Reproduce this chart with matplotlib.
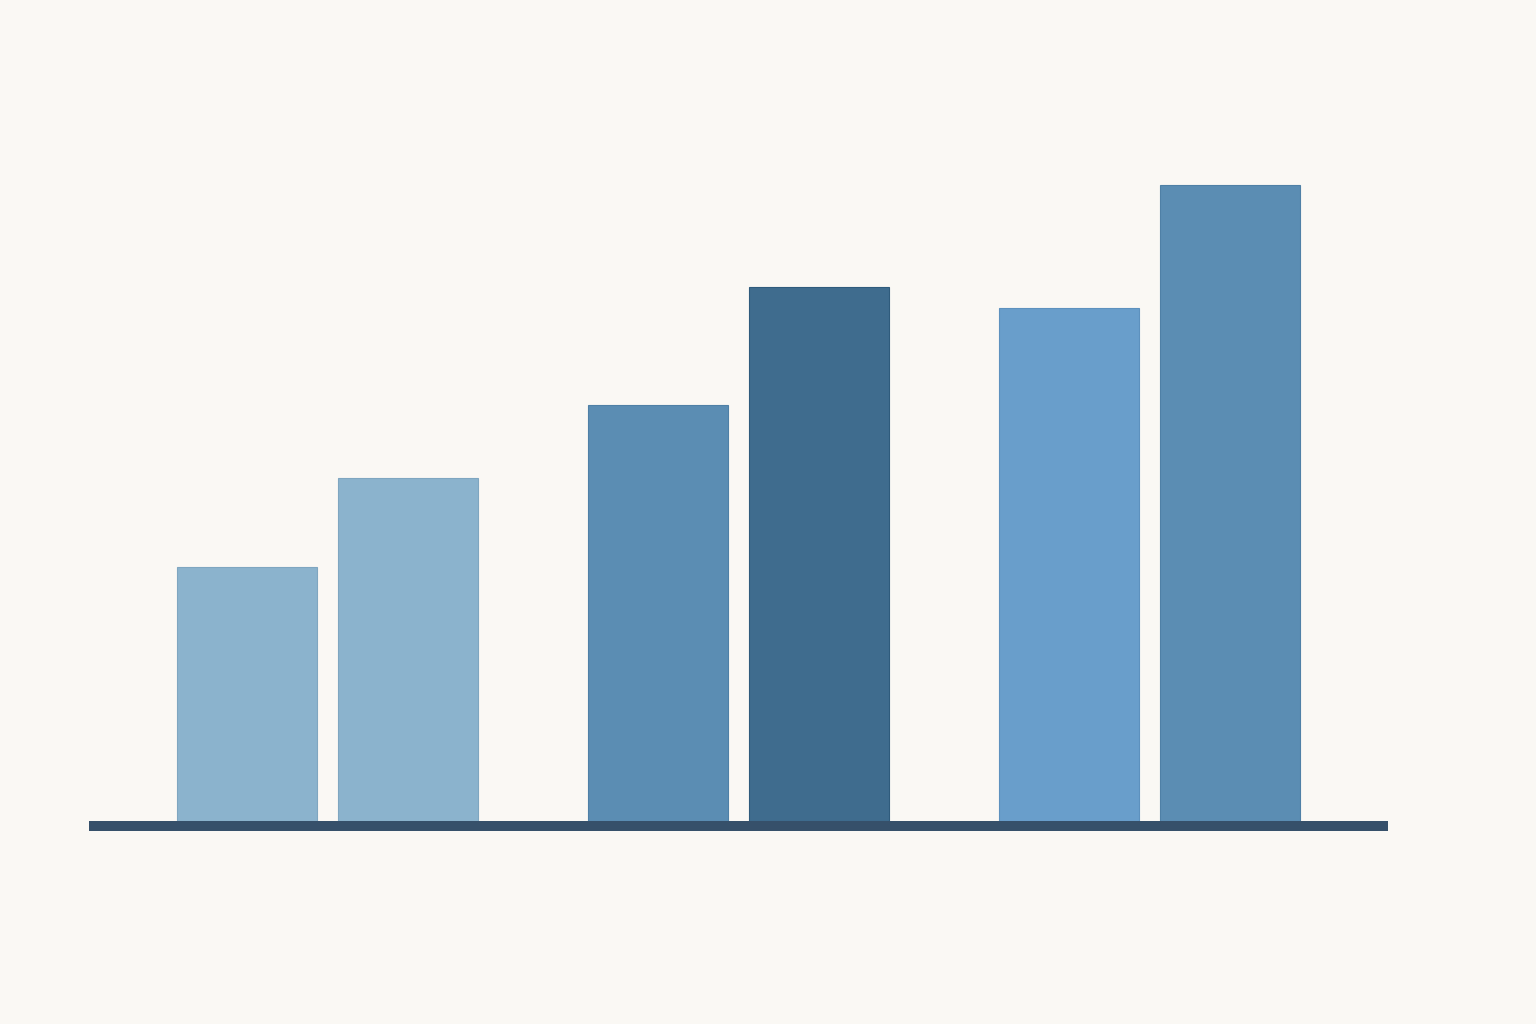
import numpy as np
import matplotlib.pyplot as plt

# three groups, two bars each
groups = [0, 1, 2]
first_vals = [2.0, 3.27, 4.03]
second_vals = [2.7, 4.2, 5.0]
first_colors = ["#8BB3CD", "#5B8DB3", "#699ECB"]
second_colors = ["#8BB3CD", "#3F6C8E", "#5B8DB3"]
first_edges = ["#7FA6C0", "#4F80A6", "#5D91BE"]
second_edges = ["#7FA6C0", "#2F5B7C", "#4F80A6"]

bg = "#FAF8F4"
offset = 0.1946
width = 0.341

fig = plt.figure(figsize=(15.36, 10.24), dpi=100, facecolor=bg)
ax = fig.add_axes([89 / 1536, 193 / 1024, 1299 / 1536, 731 / 1024])
ax.set_facecolor(bg)

x = np.array(groups, dtype=float)
ax.bar(x - offset, first_vals, width, color=first_colors,
       edgecolor=first_edges, linewidth=0.8, zorder=2)
ax.bar(x + offset + 0.002, second_vals, width, color=second_colors,
       edgecolor=second_edges, linewidth=0.8, zorder=2)

# thick baseline under the bars
ax.axhline(-0.0393, color="#36506A", linewidth=7.2, zorder=3)

ax.set_xlim(-0.579, 2.581)
ax.set_ylim(-0.0786, 5.668)
ax.axis("off")

fig.savefig("out.png", dpi=100, facecolor=bg)
